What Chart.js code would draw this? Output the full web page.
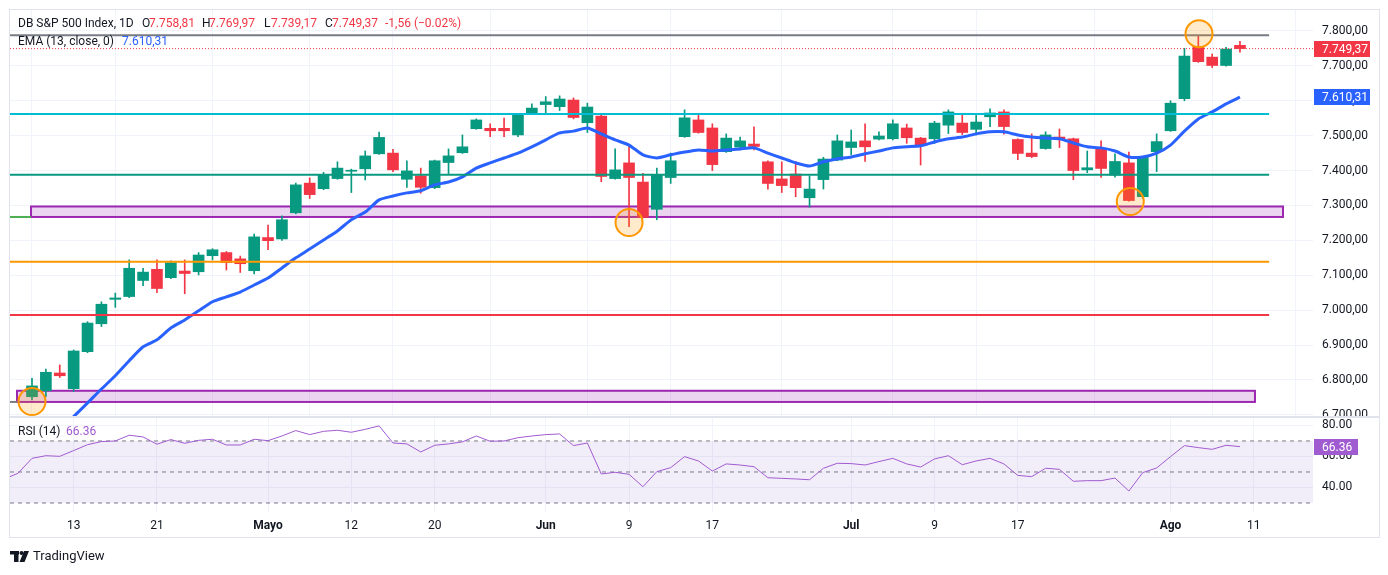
<!DOCTYPE html>
<html lang="es">
<head>
<meta charset="UTF-8">
<title>DB S&amp;P 500 Index, 1D</title>
<script src="https://cdn.jsdelivr.net/npm/chart.js@4"></script>
<style>
    body { margin: 0; background: #fff; font-family: Roboto, sans-serif; }
    #wrap { position: relative; width: 1388px; height: 575px; overflow: hidden; }
    #main { position: absolute; left: 0; top: 0; }
    #rsi { position: absolute; left: 0; top: 418px; }
    .frame { position: absolute; left: 9px; top: 9px; width: 1371px; height: 529px;
             border: 1px solid #e0e3eb; box-sizing: border-box; pointer-events: none; }
    .sep { position: absolute; left: 9px; top: 416px; width: 1371px; height: 2px; background: #e0e3eb; }
</style>
</head>
<body>
<div id="wrap">
    <canvas id="main" width="1388" height="418"></canvas>
    <canvas id="rsi" width="1388" height="157"></canvas>
    <div class="sep"></div>
    <div class="frame"></div>
</div>

<script>
    // velas diarias (índice 0 = primera vela visible)
    const opens = [6752,6769,6820,6775,6881,6961,7031,7039,7085,7117, 7093,7112,7110,7156,7165,7147,7113,7208,7204,7279,
        7364,7348,7377,7398,7405,7448,7450,7375,7385,7351, 7423,7451,7520,7521,7521,7502,7563,7589,7583,7602,
        7537,7556,7377,7422,7367,7289,7380,7497,7545,7522, 7454,7467,7476,7425,7376,7390,7322,7374,7430,7466,
        7485,7490,7491,7522,7493,7491,7530,7536,7518,7554, 7568,7489,7450,7463,7496,7491,7402,7462,7387,7422,
        7325,7454,7514,7606,7755,7725,7701,7758.81];
    const highs = [6805,6831,6843,6886,6967,7024,7049,7144,7120,7144, 7141,7144,7165,7176,7168,7155,7218,7244,7270,7364,
        7379,7395,7425,7404,7456,7510,7461,7428,7407,7430, 7462,7502,7548,7534,7550,7564,7591,7612,7614,7608,
        7593,7561,7462,7475,7392,7407,7450,7574,7559,7534, 7505,7496,7525,7428,7425,7426,7385,7438,7502,7516,
        7534,7511,7545,7533,7495,7541,7574,7559,7559,7577, 7574,7491,7505,7511,7519,7493,7456,7485,7448,7453,
        7440,7505,7600,7750,7787,7734,7753,7769.97];
    const lows = [6743,6752,6807,6767,6878,6953,7008,7036,7070,7050, 7090,7047,7101,7144,7115,7108,7104,7173,7200,7276,
        7320,7345,7375,7337,7373,7446,7397,7352,7335,7348, 7390,7449,7518,7497,7497,7497,7561,7562,7572,7548,
        7509,7368,7375,7239,7264,7259,7363,7495,7507,7400, 7452,7459,7459,7347,7337,7325,7295,7347,7428,7445,
        7426,7488,7488,7478,7416,7478,7506,7503,7502,7526, 7504,7431,7437,7461,7466,7374,7394,7380,7381,7312,
        7320,7397,7512,7600,7710,7695,7699,7739.17];
    const closes = [6783,6822,6812,6883,6963,7017,7035,7120,7109,7062, 7136,7105,7158,7173,7136,7133,7210,7199,7259,7359,
        7331,7387,7407,7401,7442,7495,7402,7399,7352,7428, 7442,7468,7545,7514,7514,7559,7579,7597,7605,7552,
        7582,7383,7402,7380,7266,7388,7428,7551,7509,7417, 7493,7485,7469,7363,7357,7351,7347,7433,7485,7482,
        7468,7499,7534,7494,7471,7536,7568,7509,7539,7565, 7526,7449,7440,7502,7491,7400,7408,7406,7426,7314,
        7440,7483,7593,7728,7712,7701,7748,7749.37];

    // EMA 13 (empieza una vela antes de la primera visible)
    const EMA_START = -1;
    const ema13 = [6550, 6590,6630,6660,6695,6734,6774,6812,6855,6895,6915, 6949,6972,6998,7024,7038,7052,7072,7092,7121,7150,
        7175,7201,7227,7259,7281,7316,7327,7336,7342,7359, 7367,7382,7407,7422,7436,7450,7468,7488,7508,7513,
        7522,7505,7488,7473,7445,7436,7445,7453,7459,7456, 7459,7462,7465,7450,7436,7422,7413,7425,7433,7439,
        7448,7456,7465,7468,7471,7482,7491,7496,7505,7511, 7511,7502,7496,7493,7491,7479,7468,7465,7456,7439,
        7439,7450,7473,7513,7548,7568,7591,7610.31];

    // RSI 14 (empieza dos velas antes)
    const RSI_START = -2;
    const rsi14 = [45.4,49.2, 58.8,60.5,60.1,63.8,67.6,69.6,70.0,73.7,72.6,67.9, 70.9,68.5,70.4,71.1,67.4,67.4,71.1,70.2,73.2,76.7,
        74.1,76.2,76.9,75.6,77.5,79.7,68.7,68.1,62.9,67.2, 68.1,69.4,73.2,69.8,70.0,72.1,73.2,74.1,74.5,67.0,
        68.7,48.7,49.8,48.5,40.5,50.2,52.8,59.9,57.1,50.6, 55.2,54.5,53.4,46.3,45.9,45.5,45.0,52.4,55.6,55.4,
        54.5,56.7,58.8,55.2,53.2,58.4,60.5,54.7,57.1,58.8, 55.2,47.8,47.0,52.4,51.7,44.0,44.4,44.4,46.1,37.7,
        49.6,52.6,59.9,67.0,65.7,64.6,67.2,66.36];

    // eje de tiempo
    const tickIdx = [3, 9, 17, 23, 29, 37, 43, 49, 59, 65, 71, 82, 88];
    const tickText = ['13', '21', 'Mayo', '12', '20', 'Jun', '9', '17', 'Jul', '9', '17', 'Ago', '11'];
    const monthIdx = [17, 37, 59, 82];

    // niveles horizontales dibujados
    const levelPrice = [7788, 7562, 7388, 7139, 6986];
    const levelEnd = 89.1;
    const stubPrice = [7267, 6737];
    const stubEnd = [-0.07, -1.08];

    // zonas (rectángulos)
    const zoneFrom = [-0.07, -1.08];
    const zoneTo = [90.1, 88.08];
    const zoneHigh = [7297, 6769];
    const zoneLow = [7267, 6737];

    // círculos marcados
    const circleIdx = [0, 43, 79.1, 84.05];
    const circlePrice = [6738, 7251, 7311, 7792];

    const priceTicks = [6700, 6800, 6900, 7000, 7100, 7200, 7300, 7400, 7500, 7600, 7700, 7800];
    const rsiTicks = [40, 60, 80];
    const rsiBands = [70, 50, 30];

    const X_MIN = -1.584, X_MAX = 92.26;
    const GREEN = '#089981', RED = '#f23645', BLUE = '#2962ff', PURPLE = '#a15bd0';
    const levelColor = ['#787b86', '#00bcd4', '#089981', '#ff9800', '#f23645'];
    const stubColor = ['#4caf50', '#787b86'];
    const FONT = 'Roboto, sans-serif';

    function fmtPrice(v) {
        const s = v.toFixed(2).split('.');
        return s[0].replace(/\B(?=(\d{3})+(?!\d))/g, '.') + ',' + s[1];
    }

    // quita el relleno que Chart.js reserva para las etiquetas de los extremos
    function noPad(ax, w, h) {
        if (w !== undefined) ax.width = w;
        if (h !== undefined) ax.height = h;
        ax.paddingTop = 0; ax.paddingBottom = 0; ax.paddingLeft = 0; ax.paddingRight = 0;
    }

    const candleColors = closes.map((c, i) => c >= opens[i] ? GREEN : RED);
    const last = closes.length - 1;

    const levelSets = levelPrice.map((p, k) => ({
        type: 'line', order: 2,
        data: [{x: X_MIN, y: p}, {x: levelEnd, y: p}],
        borderColor: levelColor[k], borderWidth: 2, pointRadius: 0
    }));
    const stubSets = stubPrice.map((p, k) => ({
        type: 'line', order: 2,
        data: [{x: X_MIN, y: p}, {x: stubEnd[k], y: p}],
        borderColor: stubColor[k], borderWidth: 2, pointRadius: 0
    }));

    const mainDecor = {
        id: 'mainDecor',
        beforeDatasetsDraw(chart) {
            const {ctx, chartArea: a, scales: {x, y}} = chart;
            ctx.save();
            ctx.beginPath();
            ctx.rect(a.left, a.top, a.right - a.left, a.bottom - a.top);
            ctx.clip();
            zoneFrom.forEach((f, k) => {
                const x0 = x.getPixelForValue(f), x1 = x.getPixelForValue(zoneTo[k]);
                const y0 = y.getPixelForValue(zoneHigh[k]), y1 = y.getPixelForValue(zoneLow[k]);
                ctx.fillStyle = 'rgba(156,39,176,0.2)';
                ctx.fillRect(x0, y0, x1 - x0, y1 - y0);
                ctx.strokeStyle = '#9c27b0';
                ctx.lineWidth = 2;
                ctx.strokeRect(x0, y0, x1 - x0, y1 - y0);
            });
            ctx.restore();
        },
        afterDraw(chart) {
            const {ctx, chartArea: a, scales: {y}} = chart;
            ctx.save();
            ctx.font = '12px ' + FONT;
            ctx.textBaseline = 'middle';
            // etiquetas del eje de precios
            [[closes[last], RED], [ema13[ema13.length - 1], BLUE]].forEach(([v, col]) => {
                const py = Math.round(y.getPixelForValue(v));
                ctx.fillStyle = col;
                ctx.fillRect(a.right + 1, py - 8, 56, 16);
                ctx.fillStyle = '#fff';
                ctx.textAlign = 'left';
                ctx.fillText(fmtPrice(v), a.right + 9, py + 1);
            });
            // leyenda
            const row1 = [['DB S&P 500 Index, 1D', 18, '#131722'], ['O', 142, '#131722'], [fmtPrice(opens[last]), 149, RED],
                ['H', 202, '#131722'], [fmtPrice(highs[last]), 209, RED], ['L', 264, '#131722'], [fmtPrice(lows[last]), 271, RED],
                ['C', 325, '#131722'], [fmtPrice(closes[last]), 332, RED], ['-1,56 (\u22120.02%)', 385, RED]];
            row1.forEach(([t, px, col]) => { ctx.fillStyle = col; ctx.fillText(t, px, 24); });
            ctx.fillStyle = '#131722';
            ctx.fillText('EMA (13, close, 0)', 18, 42);
            ctx.fillStyle = BLUE;
            ctx.fillText(fmtPrice(ema13[ema13.length - 1]), 122, 42);
            ctx.restore();
        }
    };

    new Chart(document.getElementById('main'), {
        type: 'bar',
        data: {
            datasets: [
                {
                    type: 'line', order: 0,
                    data: circleIdx.map((v, i) => ({x: v, y: circlePrice[i]})),
                    showLine: false, pointRadius: 13.5, pointBorderWidth: 2,
                    pointBorderColor: '#ff9800', pointBackgroundColor: 'rgba(255,152,0,0.2)'
                },
                {
                    type: 'line', order: 1,
                    data: [{x: X_MIN, y: closes[last]}, {x: X_MAX, y: closes[last]}],
                    borderColor: RED, borderWidth: 1, borderDash: [1, 2], pointRadius: 0
                },
                ...levelSets,
                ...stubSets,
                {
                    type: 'line', order: 3,
                    data: ema13.map((v, i) => ({x: i + EMA_START, y: v})),
                    borderColor: BLUE, borderWidth: 3, pointRadius: 0, tension: 0.2
                },
                {
                    order: 4, grouped: false,
                    data: opens.map((o, i) => ({x: i, y: [o, closes[i]]})),
                    backgroundColor: candleColors, barThickness: 11, minBarLength: 1
                },
                {
                    order: 5, grouped: false,
                    data: lows.map((l, i) => ({x: i, y: [l, highs[i]]})),
                    backgroundColor: candleColors, barThickness: 1
                }
            ]
        },
        options: {
            responsive: false, animation: false,
            layout: {autoPadding: false, padding: {left: 10, top: 10, right: 0, bottom: 0}},
            plugins: {legend: {display: false}, tooltip: {enabled: false}},
            scales: {
                x: {
                    type: 'linear', min: X_MIN, max: X_MAX, offset: false,
                    grid: {color: '#f0f3fa', drawTicks: false}, border: {display: false},
                    ticks: {display: false},
                    afterBuildTicks: ax => { ax.ticks = tickIdx.map(v => ({value: v})); },
                    afterFit: ax => noPad(ax, undefined, 0)
                },
                y: {
                    position: 'right', min: 6691, max: 7860,
                    grid: {color: '#f0f3fa', drawTicks: false}, border: {display: false},
                    afterBuildTicks: ax => { ax.ticks = priceTicks.map(v => ({value: v})); },
                    ticks: {callback: v => fmtPrice(v), color: '#131722', font: {size: 12, family: FONT}, padding: 9},
                    afterFit: ax => noPad(ax, 75)
                }
            }
        },
        plugins: [mainDecor]
    });

    const rsiDecor = {
        id: 'rsiDecor',
        afterDraw(chart) {
            const {ctx, chartArea: a, scales: {y}} = chart;
            ctx.save();
            ctx.font = '12px ' + FONT;
            ctx.textBaseline = 'middle';
            const v = rsi14[rsi14.length - 1];
            const py = Math.round(y.getPixelForValue(v));
            ctx.fillStyle = PURPLE;
            ctx.fillRect(a.right + 1, py - 8, 44, 16);
            ctx.fillStyle = '#fff';
            ctx.fillText(v.toFixed(2), a.right + 9, py + 1);
            ctx.fillStyle = '#131722';
            ctx.fillText('RSI (14)', 18, 14);
            ctx.fillStyle = PURPLE;
            ctx.fillText(v.toFixed(2), 66, 14);
            // logo TradingView
            ctx.fillStyle = '#131722';
            ctx.fillRect(10, 133, 9, 3.5);
            ctx.fillRect(14, 133, 4.5, 11);
            ctx.beginPath();
            ctx.arc(21.5, 135, 2, 0, Math.PI * 2);
            ctx.fill();
            ctx.beginPath();
            ctx.moveTo(24, 133); ctx.lineTo(29, 133); ctx.lineTo(24.5, 144); ctx.lineTo(19.5, 144);
            ctx.closePath();
            ctx.fill();
            ctx.font = '13px ' + FONT;
            ctx.fillText('TradingView', 33, 139);
            ctx.restore();
        }
    };

    const bandSets = rsiBands.map((b, k) => ({
        data: [{x: X_MIN, y: b}, {x: X_MAX, y: b}],
        borderColor: '#787b86', borderWidth: 1, borderDash: [4, 4], pointRadius: 0,
        fill: k === 0 ? 3 : false, backgroundColor: 'rgba(126,87,194,0.1)'
    }));

    new Chart(document.getElementById('rsi'), {
        type: 'line',
        data: {
            datasets: [
                {
                    data: rsi14.map((v, i) => ({x: i + RSI_START, y: v})),
                    borderColor: PURPLE, borderWidth: 1, pointRadius: 0, fill: false
                },
                ...bandSets
            ]
        },
        options: {
            responsive: false, animation: false,
            layout: {autoPadding: false, padding: {left: 10, top: 0, right: 0, bottom: 0}},
            plugins: {legend: {display: false}, tooltip: {enabled: false}},
            scales: {
                x: {
                    type: 'linear', min: X_MIN, max: X_MAX, offset: false,
                    grid: {color: '#f0f3fa', drawTicks: false}, border: {display: false},
                    afterBuildTicks: ax => { ax.ticks = tickIdx.map(v => ({value: v})); },
                    ticks: {
                        autoSkip: false, maxRotation: 0, padding: 7, color: '#131722',
                        callback: v => tickText[tickIdx.indexOf(v)] ?? '',
                        font: c => ({size: 12, family: FONT, weight: monthIdx.includes(c.tick && c.tick.value) ? 'bold' : 'normal'})
                    },
                    afterFit: ax => noPad(ax, undefined, 63)
                },
                y: {
                    position: 'right', min: 24.2, max: 84.8,
                    grid: {color: '#f0f3fa', drawTicks: false}, border: {display: false},
                    afterBuildTicks: ax => { ax.ticks = rsiTicks.map(v => ({value: v})); },
                    ticks: {callback: v => v.toFixed(2), color: '#131722', font: {size: 12, family: FONT}, padding: 9},
                    afterFit: ax => noPad(ax, 75)
                }
            }
        },
        plugins: [rsiDecor]
    });
</script>
</body>
</html>
